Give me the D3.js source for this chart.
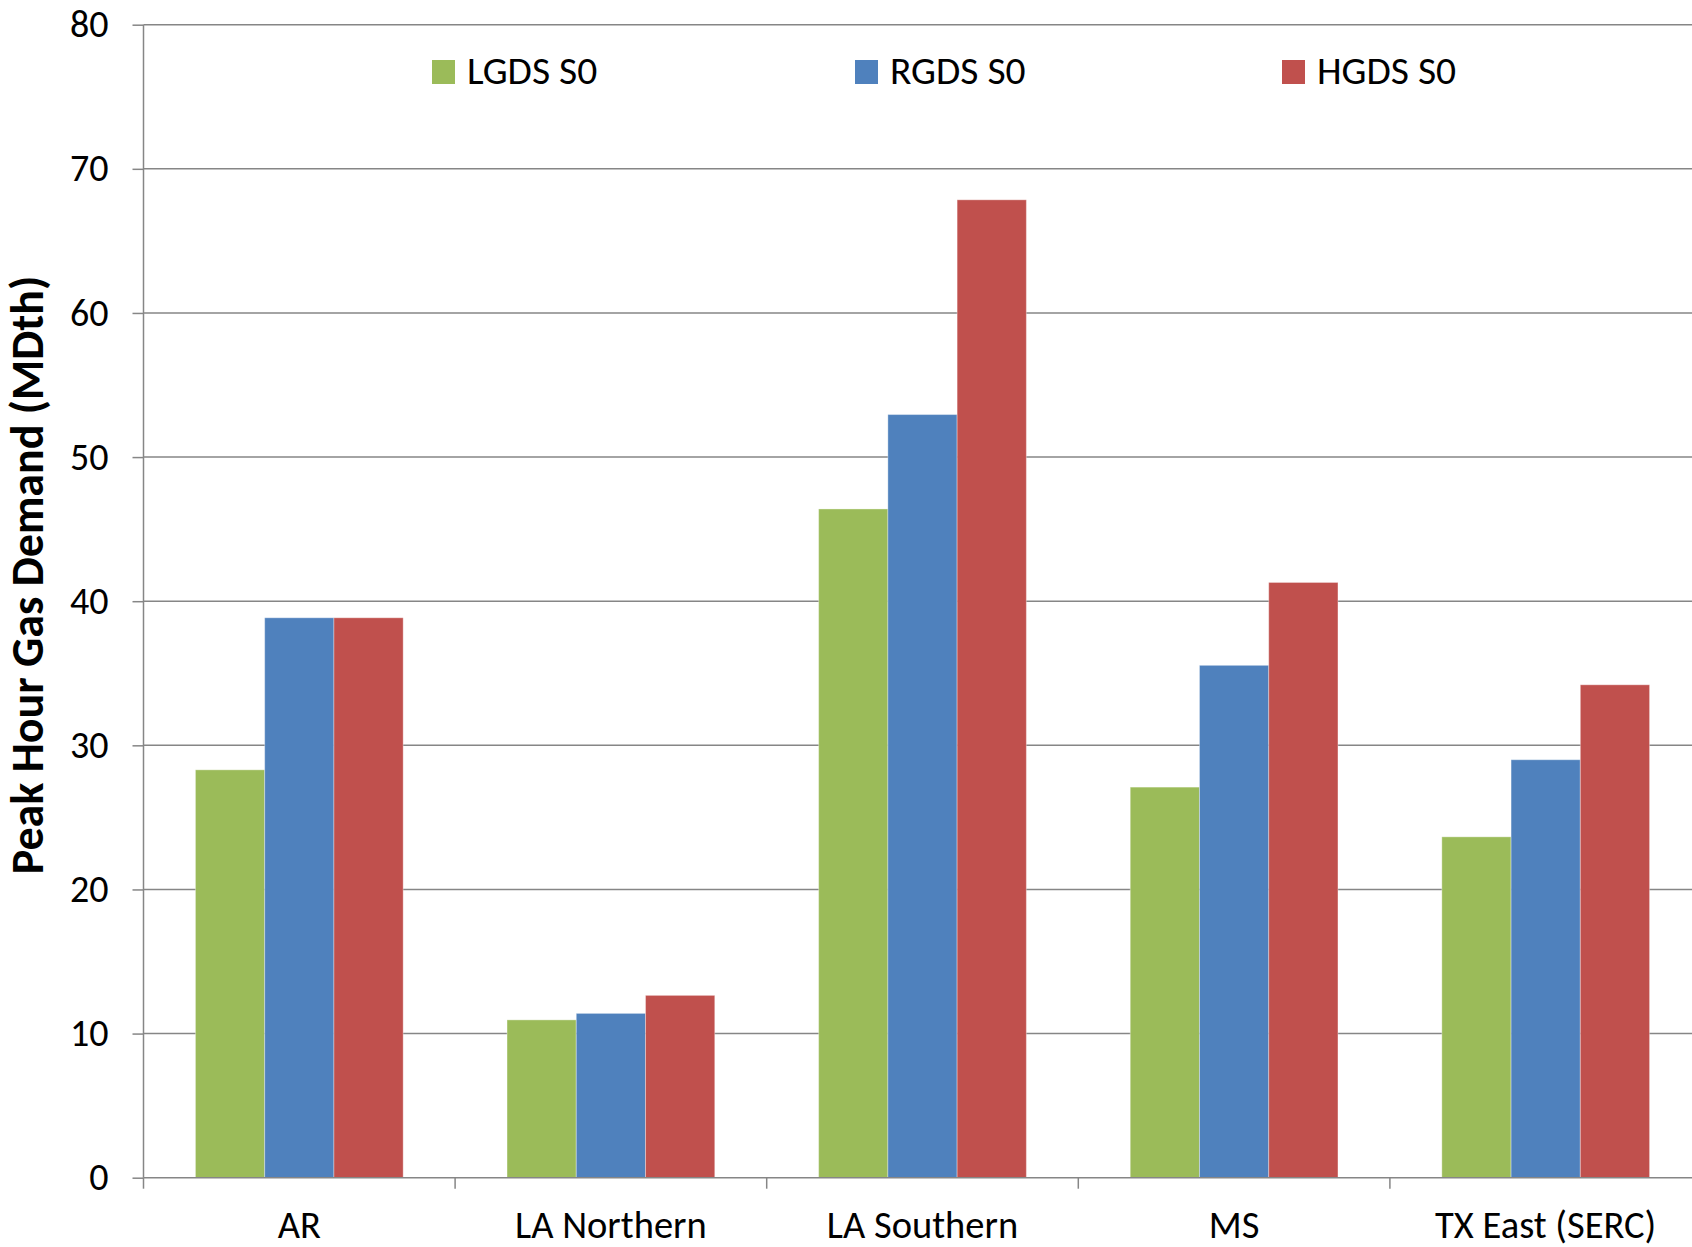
<!DOCTYPE html>
<html><head><meta charset="utf-8">
<script src="https://cdn.jsdelivr.net/npm/d3@7"></script>
<style>html,body{margin:0;padding:0;background:#fff;overflow:hidden}</style>
</head><body>
<script>
const categories = ["AR", "LA Northern", "LA Southern", "MS", "TX East (SERC)"];
const seriesNames = ["LGDS S0", "RGDS S0", "HGDS S0"];
const lgds = [28.3, 10.95, 46.4, 27.1, 23.65];
const rgds = [38.85, 11.4, 52.95, 35.55, 29.0];
const hgds = [38.85, 12.65, 67.85, 41.3, 34.2];
const yTicks = [0, 10, 20, 30, 40, 50, 60, 70, 80];
const colors = ["#9BBB59", "#4F81BD", "#C0504D"];

(function () {
const W = 1692, H = 1247;
const pLeft = 143.5, pRight = 1701.5, pTop = 24.7, pBottom = 1177.7;
const FONT = "Carlito, Calibri, 'Open Sans', sans-serif";

const svg = d3.select("body").append("svg").attr("width", W).attr("height", H)
  .style("font-family", FONT);

const x = d3.scaleBand().domain(categories).range([pLeft, pRight]).paddingInner(0).paddingOuter(0);
const y = d3.scaleLinear().domain([0, 80]).range([pBottom, pTop]);
// Excel gap width 150%
const inner = d3.scaleBand().domain(seriesNames)
  .range([0, x.bandwidth()]).paddingInner(0).paddingOuter(0.75);

const grid = svg.append("g");
grid.selectAll("line").data(yTicks.filter(d => d > 0)).join("line")
  .attr("x1", pLeft).attr("x2", W).attr("y1", d => y(d)).attr("y2", d => y(d))
  .attr("stroke", "#868686").attr("stroke-width", 1.5);

const data = [lgds, rgds, hgds];
seriesNames.forEach((s, i) => {
  svg.append("g").selectAll("rect").data(categories).join("rect")
    .attr("x", c => x(c) + inner(s))
    .attr("width", inner.bandwidth())
    .attr("y", (c, j) => y(data[i][j]))
    .attr("height", (c, j) => pBottom - y(data[i][j]))
    .attr("fill", colors[i])
    .attr("stroke", "rgba(255,255,255,0.35)").attr("stroke-width", 1);
});

// Y axis
const yAxis = d3.axisLeft(y).tickValues(yTicks).tickSize(11).tickPadding(24);
const gy = svg.append("g").attr("transform", `translate(${pLeft},0)`).call(yAxis);
gy.select(".domain").attr("stroke", "#868686").attr("stroke-width", 1.5)
  .attr("d", `M0,${pTop}V${pBottom}`);
gy.selectAll(".tick line").attr("stroke", "#868686").attr("stroke-width", 1.5);
gy.selectAll(".tick text").attr("font-size", 38).attr("fill", "#000").attr("font-family", FONT);

// X axis
const gx = svg.append("g").attr("transform", `translate(0,${pBottom})`);
gx.append("line").attr("x1", pLeft).attr("x2", W).attr("y1", 0).attr("y2", 0)
  .attr("stroke", "#868686").attr("stroke-width", 1.5);
const bounds = categories.map(c => x(c)).concat([x.range()[1]]);
gx.selectAll("line.tk").data(bounds).join("line").attr("class", "tk")
  .attr("x1", d => d).attr("x2", d => d).attr("y1", 0).attr("y2", 11)
  .attr("stroke", "#868686").attr("stroke-width", 1.5);
gx.selectAll("text").data(categories).join("text")
  .attr("x", c => x(c) + x.bandwidth() / 2).attr("y", 60.5)
  .attr("text-anchor", "middle").attr("font-size", 38.5).attr("fill", "#000")
  .text(c => c);

// Y title
svg.append("text")
  .attr("transform", `translate(43,575) rotate(-90)`)
  .attr("text-anchor", "middle").attr("font-size", 46).attr("font-weight", "bold")
  .attr("fill", "#000").text("Peak Hour Gas Demand (MDth)");

// Legend
const legX = [432, 855, 1282];
const leg = svg.append("g");
seriesNames.forEach((s, i) => {
  leg.append("rect").attr("x", legX[i]).attr("y", 60).attr("width", 23).attr("height", 24)
    .attr("fill", colors[i]);
  leg.append("text").attr("x", legX[i] + 35).attr("y", 84)
    .attr("font-size", 39.5).attr("fill", "#000").text(s);
});
})();
</script>
</body></html>
